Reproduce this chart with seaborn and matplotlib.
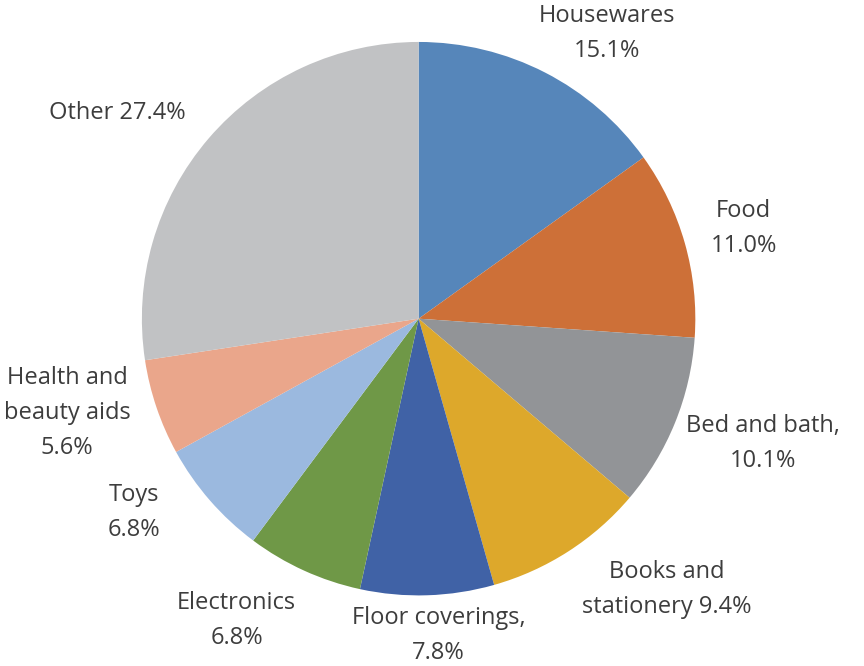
import matplotlib
matplotlib.use('Agg')
import matplotlib.pyplot as plt
import seaborn as sns

# Sales share by category (percent), clockwise from 12 o'clock
categories = ['Housewares', 'Food', 'Bed and bath', 'Books and stationery',
              'Floor coverings', 'Electronics', 'Toys', 'Health and beauty aids', 'Other']
shares = [15.1, 11.0, 10.1, 9.4, 7.8, 6.8, 6.8, 5.6, 27.4]
label_texts = ['Housewares\n15.1%', 'Food\n11.0%', 'Bed and bath,\n10.1%',
               'Books and\nstationery 9.4%', 'Floor coverings,\n7.8%',
               'Electronics\n6.8%', 'Toys\n6.8%', 'Health and\nbeauty aids\n5.6%',
               'Other 27.4%']
colors = ['#5686BA', '#CD7038', '#929497', '#DDA82B', '#4062A6',
          '#6F9847', '#9BB9DF', '#EAA68B', '#C1C2C4']

sns.set_theme(style='white')
plt.rcParams['font.family'] = ['Open Sans', 'DejaVu Sans']

fig = plt.figure(figsize=(8.64, 6.66), dpi=100)
ax = fig.add_axes([0.164, 0.106, 0.641, 0.831])

wedges, _ = ax.pie(shares, colors=colors, startangle=90, counterclock=False,
                   wedgeprops=dict(linewidth=0))
ax.set_aspect('equal')
ax.set_xlim(-1, 1)
ax.set_ylim(-1, 1)

# hand-placed label positions (pie radius units)
label_pos = [(0.68, 1.03), (1.175, 0.325), (1.245, -0.45), (0.895, -0.98),
             (0.072, -1.145), (-0.657, -1.09), (-1.03, -0.70), (-1.27, -0.34),
             (-1.09, 0.744)]
for txt, (x, y) in zip(label_texts, label_pos):
    ax.text(x, y, txt, ha='center', va='center', fontsize=17,
            color='#3d3d3d', linespacing=1.6, clip_on=False)

fig.savefig('out.png', dpi=100, facecolor='white')
